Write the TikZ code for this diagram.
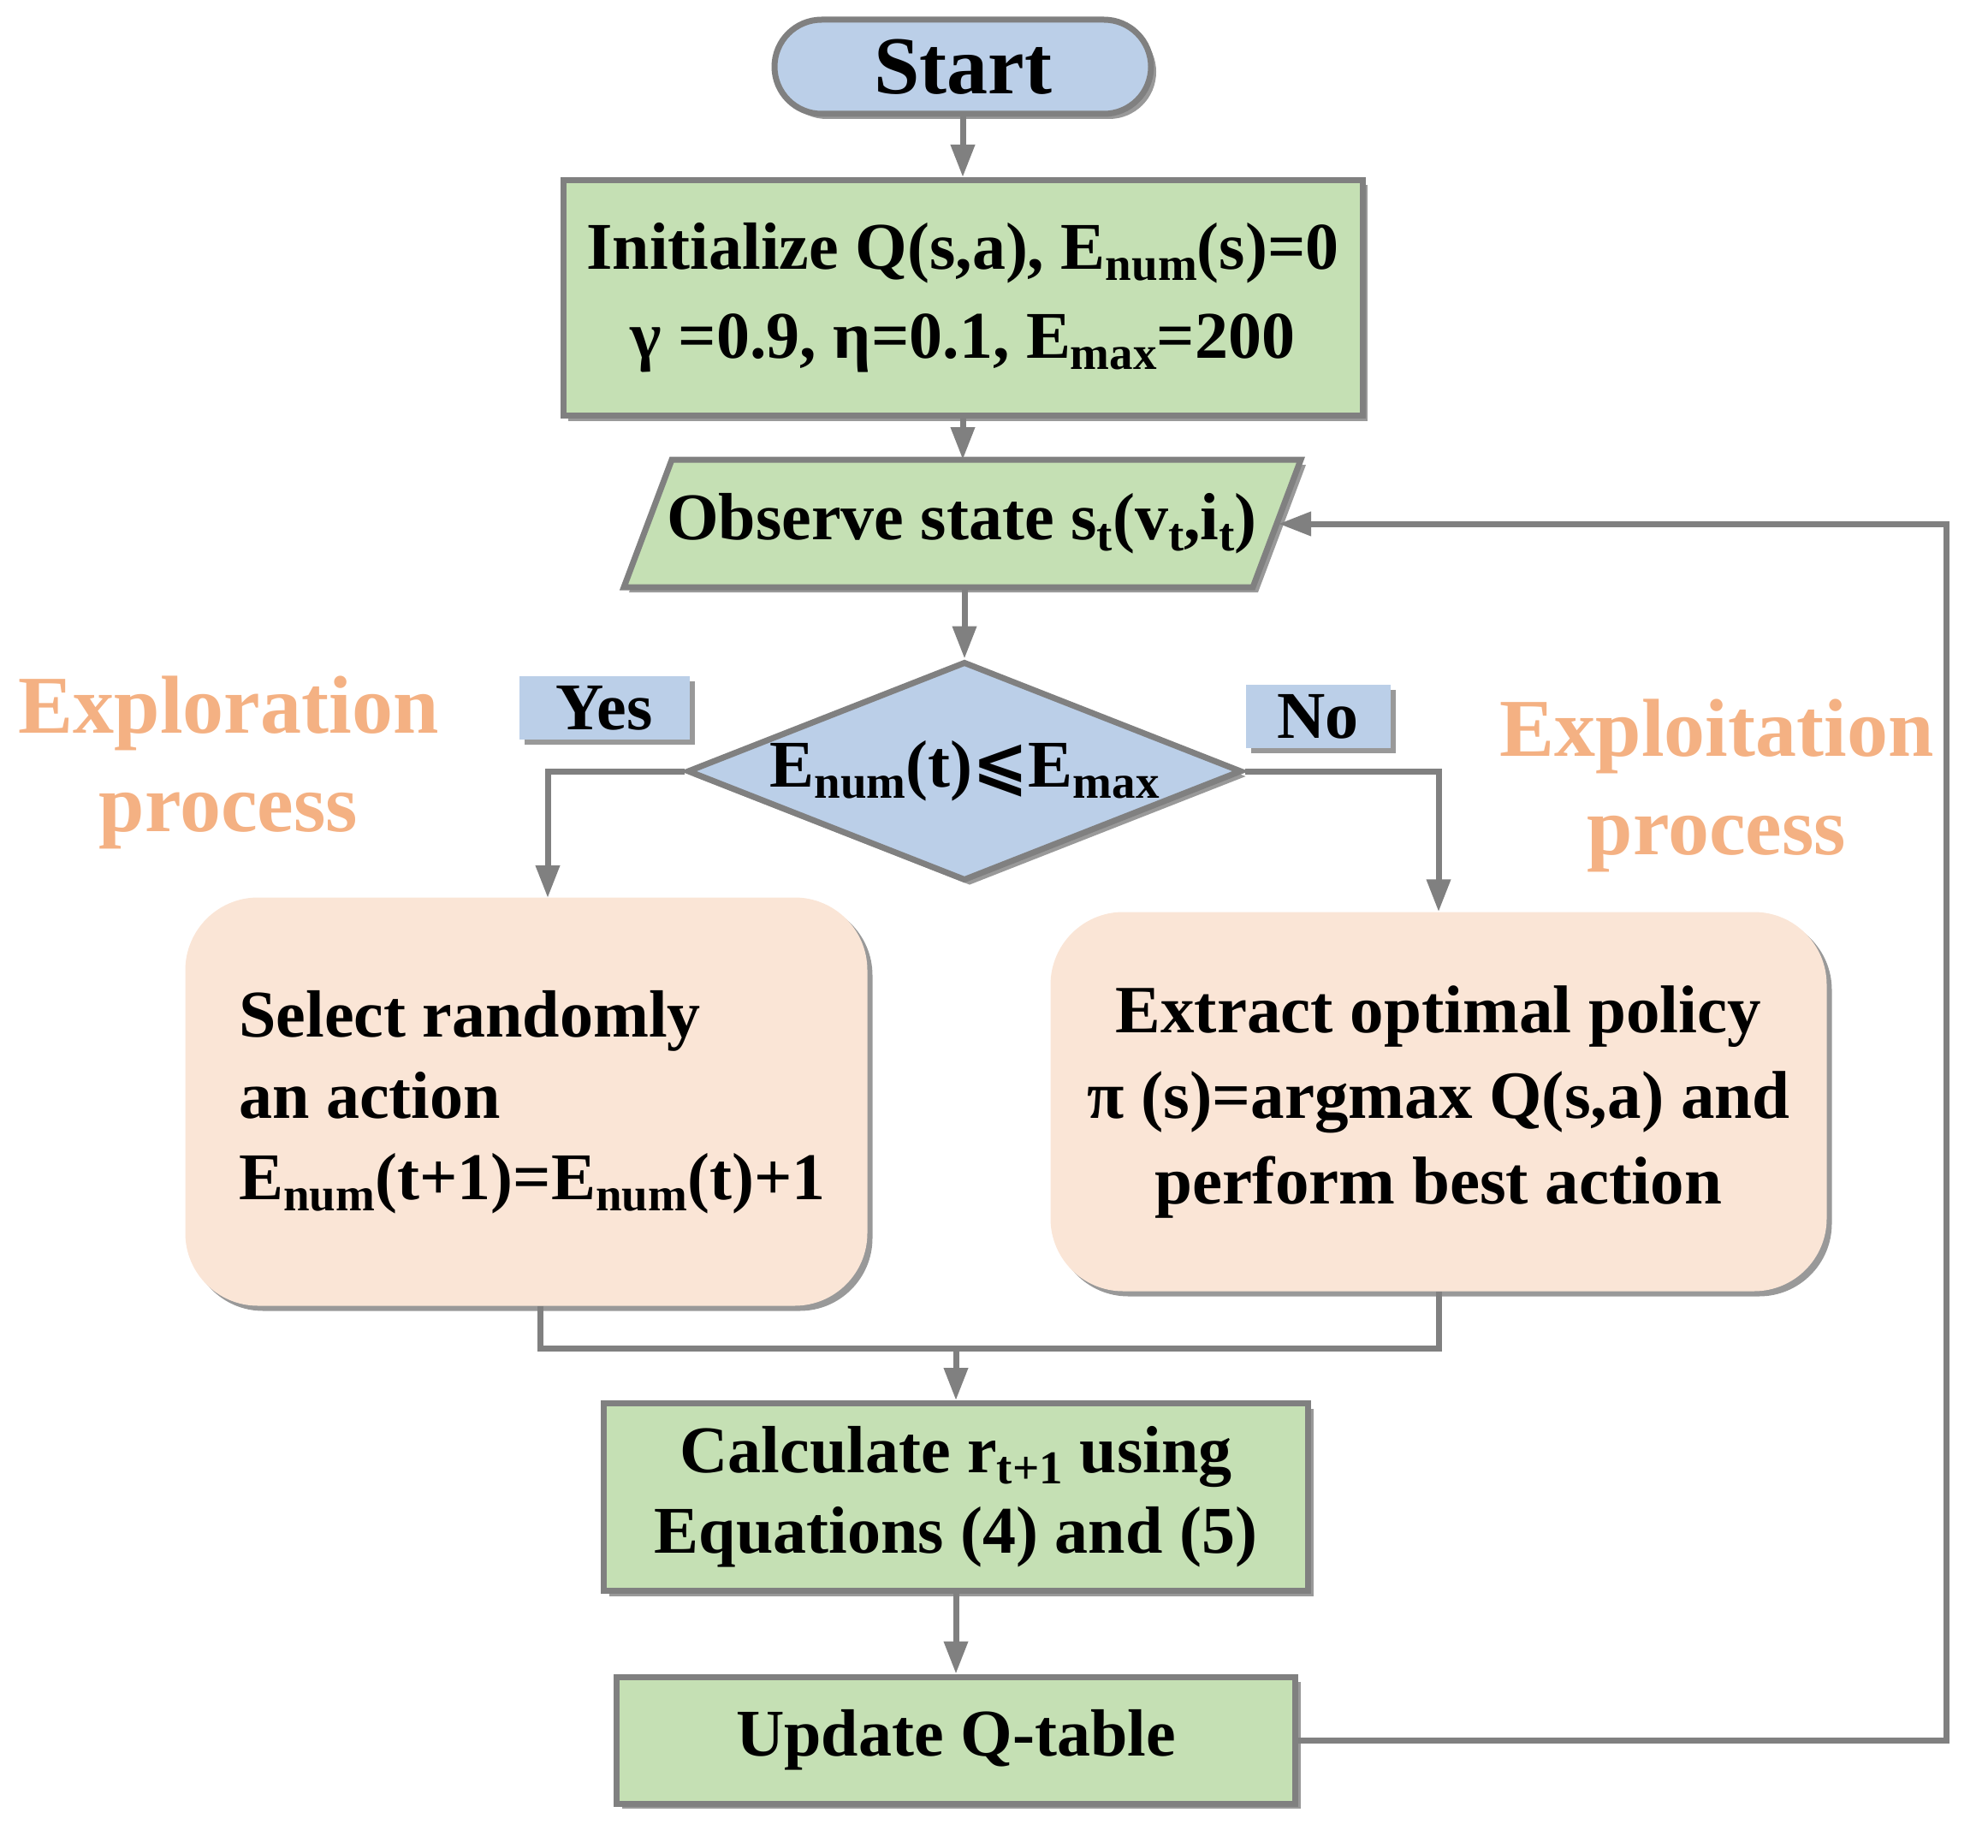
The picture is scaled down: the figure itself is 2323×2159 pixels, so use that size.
\documentclass[tikz,border=0pt]{standalone}
\usepackage{fontspec}
\setmainfont{Liberation Serif}
\newfontfamily\djv{DejaVu Sans}
\usepackage{amssymb}
\usetikzlibrary{shapes.geometric,shapes.misc,shadows,arrows.meta}
\definecolor{lgray}{RGB}{128,128,128}
\definecolor{bluef}{RGB}{187,207,232}
\definecolor{greenf}{RGB}{197,224,180}
\definecolor{peach}{RGB}{250,229,214}
\definecolor{orng}{RGB}{244,177,131}
\newcommand\sbs[1]{\raisebox{-13pt}{\fontsize{55}{55}\selectfont #1}}
\begin{document}
\begin{tikzpicture}[x=1pt,y=-1pt,
  shd/.style={drop shadow={shadow xshift=6pt,shadow yshift=-6pt,fill=black,opacity=0.4}},
  txt/.style={font=\fontsize{78}{100}\selectfont\bfseries,inner sep=0pt,align=center},
  box/.style={txt,draw=lgray,line width=7pt,fill=greenf,shd},
  pbox/.style={txt,fill=peach,rounded corners=85pt,shd},
  lab/.style={txt,fill=bluef,shd},
  proc/.style={font=\fontsize{96}{115}\selectfont\bfseries,text=orng,align=center,inner sep=0pt},
  arr/.style={draw=lgray,line width=7pt,-{Triangle[length=38pt,width=27pt]}},
  lin/.style={draw=lgray,line width=7pt}]
\useasboundingbox (0,0) rectangle (2323,2159);

\node[rounded rectangle,draw=lgray,line width=7pt,fill=bluef,shd,minimum width=440,minimum height=110,
      font=\fontsize{96}{110}\selectfont\bfseries,inner sep=0pt] (start) at (1125,78) {Start};

\node[box,minimum width=934,minimum height=275,font=\fontsize{78}{104}\selectfont\bfseries] (init) at (1125,348)
  {Initialize Q(s,a), E\sbs{num}(s)=0\\ γ =0.9, η=0.1, E\sbs{max}=200};

% parallelogram (input/output)
\path[draw=lgray,line width=7pt,fill=greenf,shd] (785,537) -- (1520,537) -- (1464,686) -- (729,686) -- cycle;
\node[txt] (obs) at (1124,612) {Observe state s\sbs{t}(v\sbs{t},i\sbs{t})};
\coordinate (obsN) at (1125,537);
\coordinate (obsS) at (1127,686);
\coordinate (obsE) at (1494,612);

\node[diamond,draw=lgray,line width=7pt,fill=bluef,shd,aspect=2.5,inner sep=0pt,
      minimum width=648,minimum height=256,font=\fontsize{78}{100}\selectfont\bfseries] (dia) at (1127,901)
  {E\sbs{num}(t){\djv ⩽}E\sbs{max}};

\node[lab,minimum width=199,minimum height=74] (yes) at (706,827) {Yes};
\node[lab,minimum width=169,minimum height=74] (no) at (1540,837) {No};

\node[proc] (expl) at (267,891) {Exploration\\process};
\node[proc] (expt) at (2006,918) {Exploitation\\process};

\node[pbox,minimum width=797,minimum height=477] (lbox) at (615,1287) {};
\node[txt,align=left,font=\fontsize{78}{95}\selectfont\bfseries] (ltxt) at (622,1288)
  {Select randomly\\an action\\E\sbs{num}(t+1)=E\sbs{num}(t)+1};
\coordinate (lbN) at (640,1049);
\coordinate (lbS) at (631,1526);

\node[pbox,minimum width=907,minimum height=443,font=\fontsize{79}{100}\selectfont\bfseries] (rbox) at (1681,1287)
  {Extract optimal policy\\π (s)=argmax Q(s,a) and\\perform best action};

\node[box,minimum width=823,minimum height=219,font=\fontsize{78}{94}\selectfont\bfseries] (calc) at (1117,1749)
  {Calculate r\sbs{t+1} using\\Equations (4) and (5)};

\node[box,minimum width=793,minimum height=148] (upd) at (1117,2033) {Update Q-table};

\coordinate (m) at (1117,1575);

\draw[arr] (start.south) -- (init.north);
\draw[arr] (init.south) -- (obsN);
\draw[arr] (obsS) -- (dia.north);
\draw[arr] (dia.west) -| (lbN);
\draw[arr] (dia.east) -| (rbox.north);
\draw[lin] (lbS) |- (m) -| (rbox.south);
\draw[arr] (m) -- (calc.north);
\draw[arr] (calc.south) -- (upd.north);
\draw[arr] (upd.east) -- ++(757,0) |- (obsE);
\end{tikzpicture}
\end{document}
